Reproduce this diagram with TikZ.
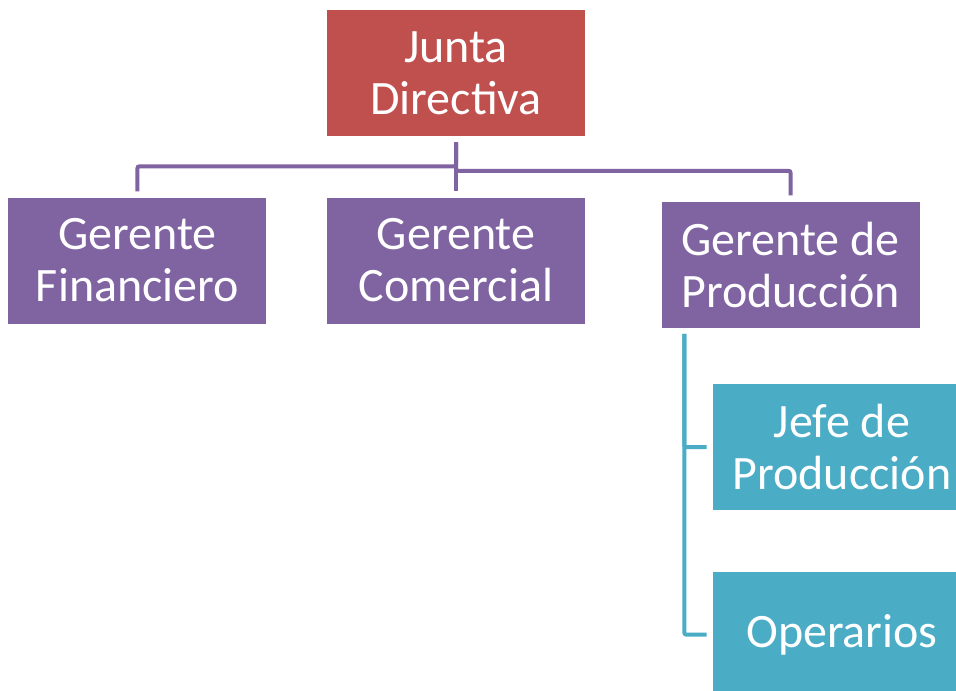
\documentclass[tikz,border=0pt]{standalone}
\usepackage{fontspec}
\setmainfont{Carlito}
\usepackage{tikz}
\usetikzlibrary{positioning,calc}
\usepackage{xcolor}
\definecolor{brick}{HTML}{C0504D}
\definecolor{plum}{HTML}{8064A2}
\definecolor{cyanish}{HTML}{4BACC6}
\tikzset{
  box/.style={minimum width=193.5pt,minimum height=94.5pt,inner sep=0pt,align=center,text=white,font=\fontsize{36}{39}\selectfont},
  board/.style={box,fill=brick},
  manager/.style={box,fill=plum},
  unit/.style={box,fill=cyanish},
  link/.style={draw=plum,line width=3pt,rounded corners=1.5pt},
  sublink/.style={draw=cyanish,line width=3pt,rounded corners=1.5pt}
}
\begin{document}
\begin{tikzpicture}
    \clip (0,0) rectangle (717pt,-518.25pt);
    \fill[white] (0,0) rectangle (717pt,-518.25pt);
    \node[board] (junta) at (342pt,-54.75pt) {Junta\\Directiva};
    \node[manager,below=45.75pt of junta] (comercial) {Gerente\\Comercial};
    \node[manager,left=45pt of comercial] (financiero) {Gerente\\Financiero};
    \node[manager,right=57pt of comercial,yshift=-3pt] (produccion) {Gerente de\\Producción};
    \node[unit,below=42pt of produccion,xshift=38.6pt] (jefe) {Jefe de\\Producción};
    \node[unit,below=45.75pt of jefe] (operarios) {Operarios};
    \draw[link] ([yshift=-4.5pt]junta.south) -- ++(0,-18pt) -| ([yshift=4.5pt]financiero.north);
    \draw[link] ([yshift=-4.5pt]junta.south) -- ([yshift=4.5pt]comercial.north);
    \draw[link] ([yshift=-4.5pt]junta.south) -- ++(0,-21.4pt) -| ([yshift=4.5pt]produccion.north);
    \draw[sublink] ([xshift=17.25pt,yshift=-4.5pt]produccion.south west) |- ([xshift=-4.5pt]jefe.west);
    \draw[sublink] ([xshift=17.25pt,yshift=-4.5pt]produccion.south west) |- ([xshift=-4.5pt]operarios.west);
  \end{tikzpicture}
\end{document}
